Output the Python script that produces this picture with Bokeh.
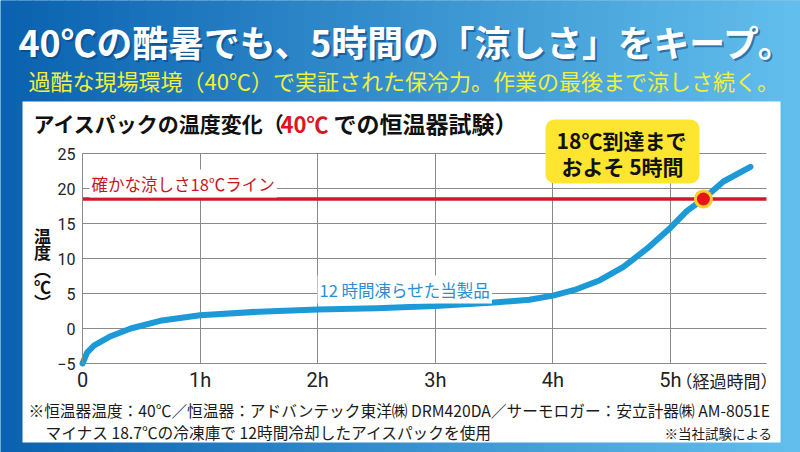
from bokeh.plotting import figure
from bokeh.models import Range1d, FixedTicker, Label, BoxAnnotation
from bokeh.embed import file_html
from bokeh.resources import INLINE

# ---------------- data ----------------
HOURS = [0.0, 0.04, 0.1, 0.24, 0.41, 0.66, 1.0, 1.5, 2.0, 2.5, 3.0, 3.5, 3.8,
         4.0, 4.2, 4.4, 4.6, 4.8, 5.0, 5.14, 5.28, 5.45, 5.68]
TEMPS = [-5.0, -3.4, -2.4, -1.1, 0.0, 1.1, 1.9, 2.4, 2.7, 2.9, 3.2, 3.7, 4.1,
         4.7, 5.6, 6.9, 8.8, 11.4, 14.4, 16.8, 18.5, 21.0, 23.1]
THRESHOLD = 18.5
CROSS_HOUR = [5.28]
CROSS_TEMP = [18.5]
X_TICKS = [0, 1, 2, 3, 4, 5]
X_TICK_LABELS = ["0", "1h", "2h", "3h", "4h", "5h"]
Y_TICKS = [-5, 0, 5, 10, 15, 20, 25]
X_MAX = 5.816
Y_MIN, Y_MAX = -5, 25

TITLE = "40℃の酷暑でも、5時間の「涼しさ」をキープ。"
SUBTITLE = "過酷な現場環境（40℃）で実証された保冷力。作業の最後まで涼しさ続く。"
CHART_TITLE = ["アイスパックの温度変化（", "40℃", "での恒温器試験）"]
Y_LABEL_CHARS = ["温", "度", "︵", "℃", "︶"]
X_LABEL = "（経過時間）"
LINE_LABEL = "確かな涼しさ18℃ライン"
SERIES_LABEL = "12 時間凍らせた当製品"
CALLOUT = ["18℃到達まで", "およそ 5時間"]
NOTE1 = "※恒温器温度：40℃／恒温器：アドバンテック東洋㈱ DRM420DA／サーモロガー：安立計器㈱ AM-8051E"
NOTE2 = "マイナス 18.7℃の冷凍庫で 12時間冷却したアイスパックを使用"
NOTE3 = "※当社試験による"

# ---------------- layout ----------------
W, H = 800, 452
X0_PX, Y0_PX = 82, 328      # pixel position of (0 h, 0 ℃)
PXH = 117.6                  # pixels per hour
PXT = 7.0                    # pixels per degree

JP = "Noto Sans CJK JP"


def dx(px):
    return (px - X0_PX) / PXH


def dy(py):
    return (Y0_PX - py) / PXT


p = figure(width=W, height=H, x_range=Range1d(dx(0), dx(W)), y_range=Range1d(dy(H), dy(0)),
           output_backend="svg", toolbar_location=None, title=None, min_border=0)
p.border_fill_color = "#2a8ad0"
p.background_fill_color = "#2a8ad0"
p.outline_line_color = None

# background gradient strips
N = 50
c0 = (10, 98, 176)
c1 = (98, 190, 236)
for i in range(N):
    t = i / (N - 1)
    col = "#%02x%02x%02x" % tuple(int(round(a + (b - a) * t)) for a, b in zip(c0, c1))
    a = i * W / N
    b = a + W / N + 1
    p.add_layout(BoxAnnotation(left=dx(a), right=dx(b), top=dy(-5), bottom=dy(H + 5),
                               fill_color=col, fill_alpha=1, line_color=None, level="image"))

# white panel
p.add_layout(BoxAnnotation(left=dx(22), right=dx(780), top=dy(101), bottom=dy(442),
                           fill_color="white", fill_alpha=1, line_color=None, level="image"))

# axes (fixed inside the frame)
p.xaxis.fixed_location = Y_MIN
p.yaxis.fixed_location = 0
p.xaxis.bounds = (0, X_MAX)
p.yaxis.bounds = (Y_MIN, Y_MAX)
p.xaxis.ticker = FixedTicker(ticks=X_TICKS)
p.xaxis.major_label_overrides = {t: s for t, s in zip(X_TICKS, X_TICK_LABELS)}
p.yaxis.ticker = FixedTicker(ticks=Y_TICKS)
for ax in (p.xaxis[0], p.yaxis[0]):
    ax.axis_line_color = "#8a8a8a"
    ax.axis_line_width = 1
    ax.major_tick_line_color = None
    ax.minor_tick_line_color = None
    ax.major_tick_out = 0
    ax.major_label_text_font = "Roboto"
    ax.major_label_text_color = "#222222"
p.xaxis.major_label_text_font_size = "20px"
p.xaxis.major_label_standoff = 4
p.yaxis.major_label_text_font_size = "16px"
p.yaxis.major_label_standoff = 7

# grid limited to the chart area
p.xgrid.ticker = FixedTicker(ticks=X_TICKS[1:])
p.ygrid.ticker = FixedTicker(ticks=Y_TICKS)
p.xgrid.cross_bounds = (Y_MIN, Y_MAX)
p.ygrid.cross_bounds = (0, X_MAX)
for g in (p.xgrid[0], p.ygrid[0]):
    g.grid_line_color = "#8a8a8a"
    g.grid_line_width = 1
    g.grid_line_alpha = 1

# threshold line across the chart
p.segment(x0=[0], y0=[THRESHOLD], x1=[X_MAX], y1=[THRESHOLD], line_color="#cc1c24",
          line_width=3.5)

# curve
p.line(HOURS, TEMPS, line_color="#1c9ad8", line_width=6, line_cap="round", line_join="round")

# crossing dot
p.scatter(CROSS_HOUR, CROSS_TEMP, size=19, fill_color="#f7cf2c", line_color=None)
p.scatter(CROSS_HOUR, CROSS_TEMP, size=13, fill_color="#e8141c", line_color=None)


def lab(px, py, text, size, color="#1a1a1a", style="normal", align="left", **kw):
    l = Label(x=dx(px), y=dy(py), text=text, text_font=JP, text_font_size=f"{size}px",
              text_color=color, text_font_style=style, text_align=align,
              text_baseline="middle", **kw)
    p.add_layout(l)
    return l


# titles
lab(20, 42, TITLE, 35.8, color="#0a3c70", style="bold", text_alpha=0.55)
lab(18, 40, TITLE, 35.8, color="white", style="bold")
lab(28, 79, SUBTITLE, 22, color="#eef03c")

lab(33, 122, CHART_TITLE[0], 21, color="#111111", style="bold")
lab(280, 122, CHART_TITLE[1], 22, color="#e0141e", style="bold")
lab(333, 122, CHART_TITLE[2], 23, color="#111111", style="bold")

# y label (vertical)
for ch, py in zip(Y_LABEL_CHARS, [235, 251, 269, 286, 301]):
    lab(42, py, ch, 17, color="#111111", style="bold", align="center")

# x label
lab(675, 380, X_LABEL, 17, color="#222222")

# in-chart labels
lab(89, 183, LINE_LABEL, 16.5, color="#c8161e", background_fill_color="white", padding=2)
lab(317, 289, SERIES_LABEL, 16.5, color="#2a8fd0", background_fill_color="white", padding=2)

# callout
p.add_layout(BoxAnnotation(left=dx(545), right=dx(699), top=dy(119), bottom=dy(183),
                           fill_color="#fde530", fill_alpha=1, line_color=None,
                           border_radius=9))
lab(621, 139, CALLOUT[0], 21, color="#111111", style="bold", align="center")
lab(622, 165, CALLOUT[1], 21, color="#111111", style="bold", align="center")

# footnotes
lab(28, 410, NOTE1, 15.7, color="#1a1a1a")
lab(45, 432, NOTE2, 15.7, color="#1a1a1a")
lab(772, 432, NOTE3, 13.5, color="#1a1a1a", align="right")

open("out.html", "w").write(file_html(p, INLINE))
